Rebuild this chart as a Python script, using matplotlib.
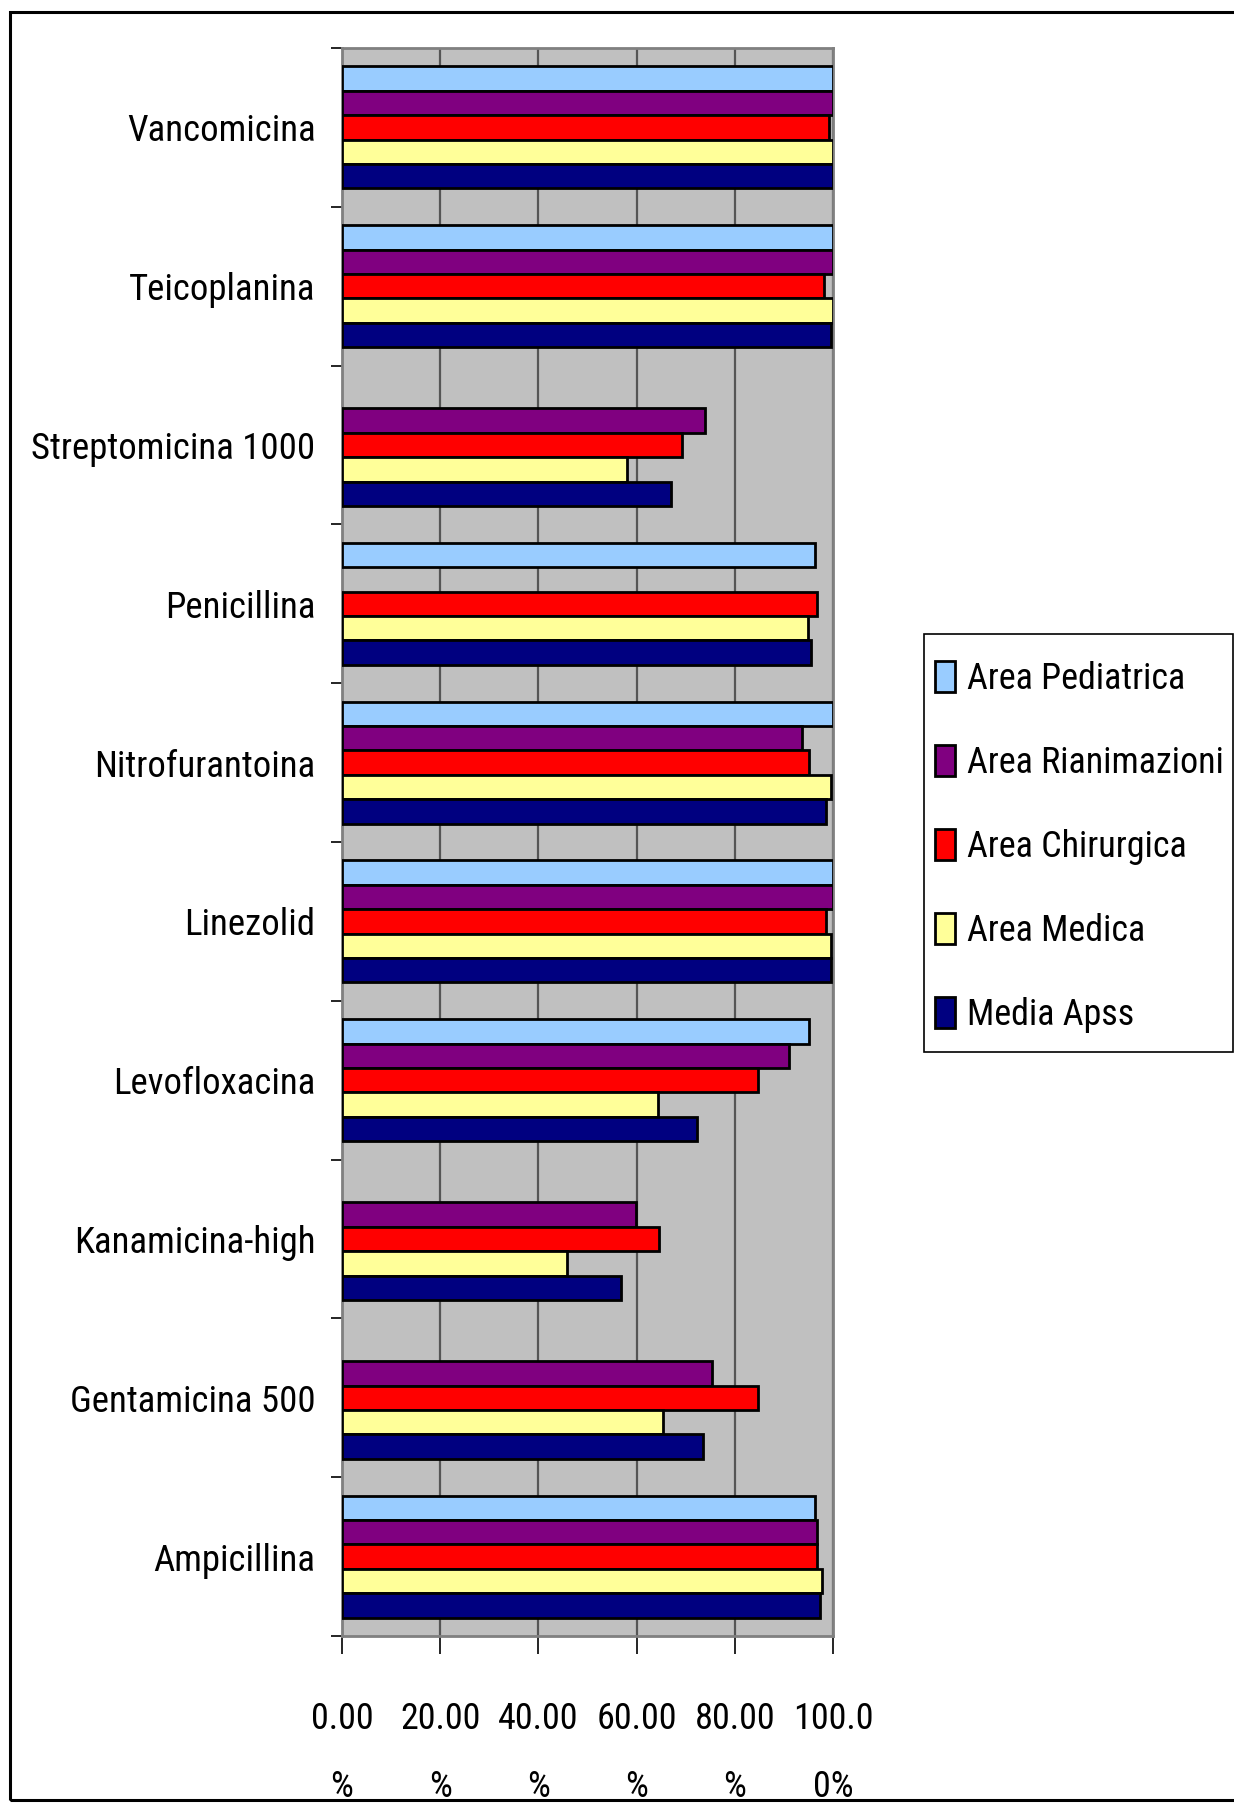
import numpy as np
import matplotlib
matplotlib.use("Agg")
import matplotlib.pyplot as plt
from matplotlib.patches import Rectangle

plt.rcParams['font.family'] = ['Roboto Condensed', 'DejaVu Sans']

farmaci = ['Vancomicina', 'Teicoplanina', 'Streptomicina 1000', 'Penicillina',
           'Nitrofurantoina', 'Linezolid', 'Levofloxacina', 'Kanamicina-high',
           'Gentamicina 500', 'Ampicillina']

serie = ['Area Pediatrica', 'Area Rianimazioni', 'Area Chirurgica',
         'Area Medica', 'Media Apss']
colori = ['#99CCFF', '#800080', '#FF0000', '#FFFF99', '#000080']

# valori in %, nan = dato mancante
pediatrica   = [100.0, 100.0, np.nan, 96.4, 100.0, 100.0, 95.1, np.nan, np.nan, 96.4]
rianimazioni = [100.0, 100.0, 73.9, np.nan, 93.7, 100.0, 91.0, 59.9, 75.3, 96.8]
chirurgica   = [99.1, 98.1, 69.3, 96.8, 95.1, 98.5, 84.7, 64.5, 84.7, 96.8]
medica       = [100.0, 100.0, 58.0, 95.0, 99.5, 99.5, 64.4, 45.8, 65.3, 97.8]
media_apss   = [99.9, 99.6, 67.1, 95.5, 98.6, 99.6, 72.2, 56.9, 73.5, 97.3]

xticks = [0, 20, 40, 60, 80, 100]
xticklabels = ['0.00\n%', '20.00\n%', '40.00\n%', '60.00\n%', '80.00\n%', '100.0\n0%']

valori = [pediatrica, rianimazioni, chirurgica, medica, media_apss]

W, H = 1234, 1805
fig = plt.figure(figsize=(W/100, H/100), dpi=100)
ax = fig.add_axes([342/W, 1-1636/H, (833-342)/W, (1636-48)/H])
ax.set_facecolor('#C0C0C0')

n = len(farmaci)
h = 1/6.5
y = np.arange(n)
for j, (vals, nome, col) in enumerate(zip(valori, serie, colori)):
    v = np.array(vals, dtype=float)
    ok = ~np.isnan(v)
    ax.barh(y[ok] + (j-2)*h, v[ok], height=h, color=col, edgecolor='black',
            linewidth=2.0, label=nome, zorder=3)

ax.set_xlim(0, 100)
ax.set_ylim(n-0.5, -0.5)

ax.set_yticks(y)
ax.set_yticklabels(farmaci, fontsize=26.5)
ax.tick_params(axis='y', which='major', length=0, pad=19)
ax.set_yticks(np.arange(-0.5, n), minor=True)
ax.tick_params(axis='y', which='minor', length=8, width=1.2, color='black')

ax.set_xticks(xticks)
ax.set_xticklabels(xticklabels, fontsize=26, linespacing=2.15)
ax.tick_params(axis='x', length=13, width=1.2, color='black', pad=34)

ax.xaxis.grid(True, color='#555555', linewidth=1.6, zorder=1)
ax.set_axisbelow(True)
for s in ax.spines.values():
    s.set_color('#808080')
    s.set_linewidth(2)

# legenda senza cornice, cornice disegnata a parte
leg = fig.legend(loc='upper left', bbox_to_anchor=(935/W, 1-661/H),
                 fontsize=26, frameon=False, borderpad=0, borderaxespad=0,
                 handlelength=0.55, handleheight=0.94, handletextpad=0.33,
                 labelspacing=1.33)
fig.add_artist(Rectangle((924/W, 1-1052/H), (1233-924)/W, (1052-634)/H,
                         transform=fig.transFigure, fill=False,
                         edgecolor='black', linewidth=1.2, zorder=5))

# cornice del grafico
fig.add_artist(Rectangle((10/W, 5/H), 1.2, (1800-12)/H,
                         transform=fig.transFigure, fill=False,
                         edgecolor='black', linewidth=2.2, zorder=10,
                         clip_on=False))

fig.savefig('out.png', dpi=100)
